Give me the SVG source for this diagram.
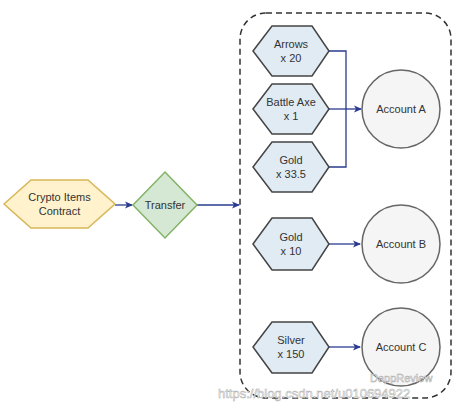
<svg xmlns="http://www.w3.org/2000/svg" width="461" height="411" viewBox="0 0 461 411">
<defs>
<style>
text{font-family:"Liberation Sans",Arial,sans-serif;font-size:11px;fill:#333;text-anchor:middle}
.hex{fill:#e1ebf4;stroke:#444;stroke-width:1.5}
.acc{fill:#f5f5f5;stroke:#666;stroke-width:1.5}
.conn{fill:none;stroke:#2a3b8f;stroke-width:1.3}
.wm{font-size:13px;fill:#fff;stroke:#aaa;stroke-width:0.5;text-anchor:start}
</style>
<marker id="ah" markerWidth="8" markerHeight="8" refX="7" refY="4" orient="auto" markerUnits="userSpaceOnUse">
<path d="M0,0.5 L8,4 L0,7.5 L2,4 Z" fill="#2a3b8f"/>
</marker>
</defs>
<rect width="461" height="411" fill="#fff"/>
<g id="container">
<rect x="240" y="13" width="211" height="385" rx="26" fill="none" stroke="#333" stroke-width="1.5" stroke-dasharray="6,4"/>
</g>
<g id="connectors">
<line class="conn" x1="115" y1="205" x2="132" y2="205" marker-end="url(#ah)"/>
<line class="conn" x1="197" y1="205" x2="239" y2="205" marker-end="url(#ah)"/>
<polyline class="conn" points="329,51 346,51 346,167 329,167"/>
<line class="conn" x1="329" y1="109" x2="361" y2="109" marker-end="url(#ah)"/>
<line class="conn" x1="329" y1="244" x2="360" y2="244" marker-end="url(#ah)"/>
<line class="conn" x1="329" y1="347" x2="360" y2="347" marker-end="url(#ah)"/>
</g>
<g id="crypto">
<polygon points="4,204 31,180 88,180 115,204 88,228 31,228" fill="#fff2cc" stroke="#d6b656" stroke-width="1.5"/>
<text x="59.5" y="201">Crypto Items</text>
<text x="59.5" y="215">Contract</text>
</g>
<g id="transfer">
<polygon points="165,172 197,205 165,238 133,205" fill="#d5e8d4" stroke="#82b366" stroke-width="1.5"/>
<text x="165" y="209">Transfer</text>
</g>
<g id="arrows">
<polygon class="hex" points="253,51 272,26 312,26 329,51 312,76 272,76"/>
<text x="291" y="48">Arrows</text>
<text x="291" y="62">x 20</text>
</g>
<g id="battleaxe">
<polygon class="hex" points="253,109 272,84 312,84 329,109 312,134 272,134"/>
<text x="291" y="106">Battle Axe</text>
<text x="291" y="120">x 1</text>
</g>
<g id="gold1">
<polygon class="hex" points="253,167 272,142 312,142 329,167 312,192 272,192"/>
<text x="291" y="164">Gold</text>
<text x="291" y="178">x 33.5</text>
</g>
<g id="gold2">
<polygon class="hex" points="253,244 272,218 312,218 329,244 312,270 272,270"/>
<text x="291" y="241">Gold</text>
<text x="291" y="255">x 10</text>
</g>
<g id="silver">
<polygon class="hex" points="253,347 272,322 312,322 329,347 312,373 272,373"/>
<text x="291" y="344">Silver</text>
<text x="291" y="358">x 150</text>
</g>
<g id="accountA">
<circle class="acc" cx="401" cy="109" r="39"/>
<text x="401" y="113">Account A</text>
</g>
<g id="accountB">
<circle class="acc" cx="401" cy="244" r="39"/>
<text x="401" y="248">Account B</text>
</g>
<g id="accountC">
<circle class="acc" cx="401" cy="347" r="39"/>
<text x="401" y="351">Account C</text>
</g>
<g id="watermark">
<text class="wm" x="370" y="382" style="font-size:11px">DappReview</text>
<text class="wm" x="218" y="398">https://blog.csdn.net/u010694922</text>
</g>
</svg>
